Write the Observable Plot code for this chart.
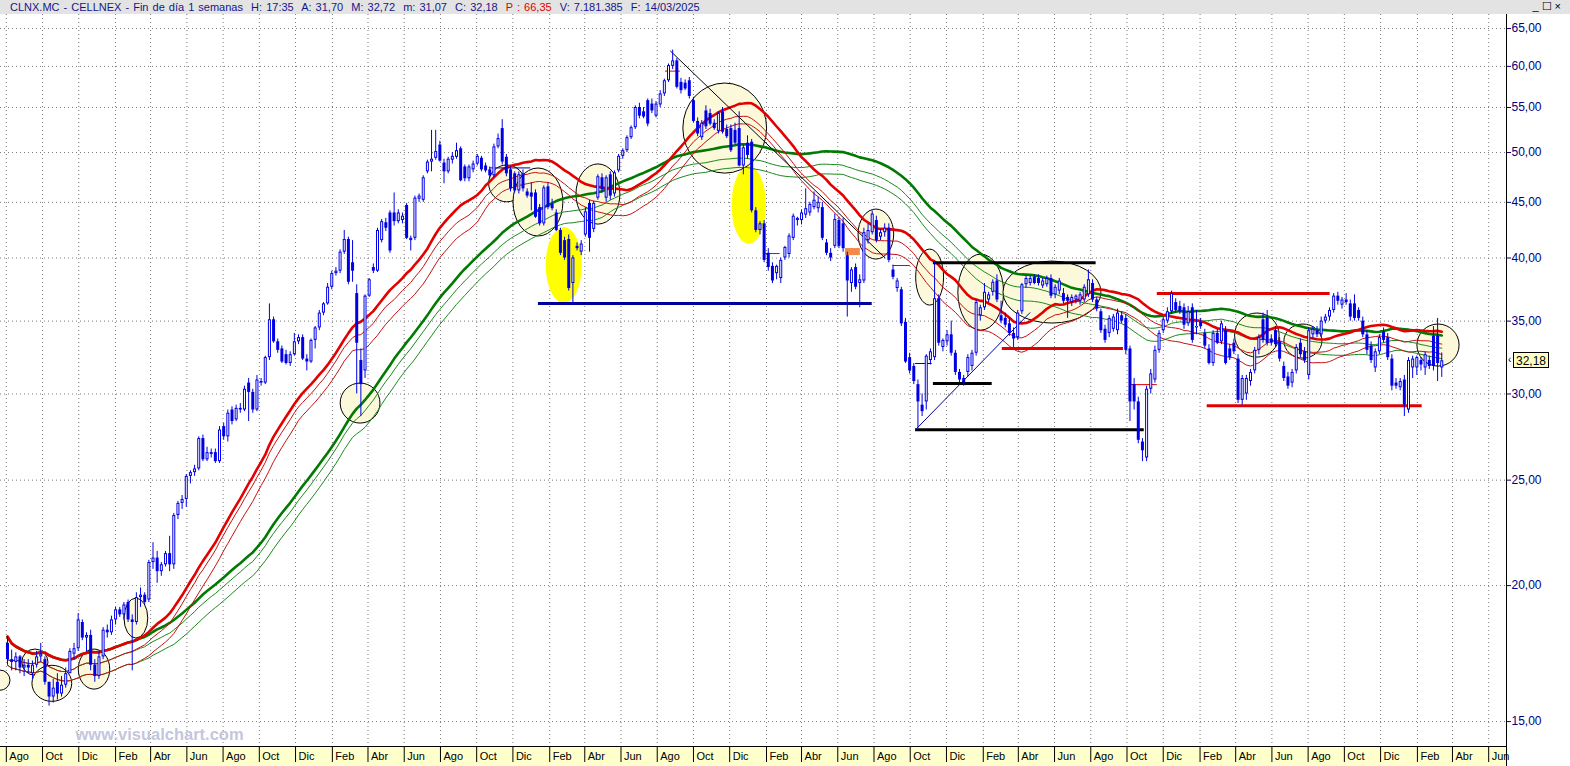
<!DOCTYPE html>
<html>
<head>
<meta charset="utf-8">
<script src="https://cdn.jsdelivr.net/npm/d3@7"></script>
<script src="https://cdn.jsdelivr.net/npm/@observablehq/plot@0.6"></script>
<style>
html,body{margin:0;padding:0;background:#fff;}
body{width:1570px;height:766px;overflow:hidden;font-family:"Liberation Sans",Arial,sans-serif;}
#head{height:14px;background:#e3e3e3;position:relative;font-size:11px;line-height:14px;color:#16168a;white-space:nowrap;}
#head .t{position:absolute;left:10px;top:0;word-spacing:1px;}
#head .p{color:#e00000;}
#head .b{position:absolute;right:6px;top:-1px;color:#000;font-size:11px;letter-spacing:3px;}
#chart svg{display:block;}
</style>
</head>
<body>
<div id="head"><span class="t">CLNX.MC - CELLNEX - Fin de día 1 semanas&nbsp; H: 17:35&nbsp; A: 31,70&nbsp; M: 32,72&nbsp; m: 31,07&nbsp; C: 32,18&nbsp; <span class="p">P : 66,35</span>&nbsp; V: 7.181.385&nbsp; F: 14/03/2025</span><span class="b">_☐×</span></div>
<div id="chart"></div>
<script>
// ---------- data (weekly candles: [open, high, low, close]) ----------
const firstWeek = "2018-08-03";
const w2018 = [[17.7,17.95,16.9,17.1],[17.1,17.45,16.7,17.0],[17.0,17.35,16.7,17.2],[17.2,17.25,16.6,16.8],[16.8,17.1,16.5,16.9],[16.9,17.1,16.6,16.8],[16.6,17.05,16.4,16.9],[16.9,17.4,16.8,17.2],[17.2,17.7,17.0,17.3],[17.1,17.2,16.2,16.3],
[16.3,16.3,15.5,15.8],[15.8,16.4,15.6,16.1],[16.3,16.6,15.7,15.9],[15.9,16.5,15.8,16.2],[16.2,16.8,16.1,16.6],[16.6,17.5,16.6,17.4],[17.3,17.7,17.1,17.5],[17.5,18.85,17.4,18.6],[18.5,18.6,17.8,17.9],[17.9,18.1,17.4,18.0],
[18.0,18.2,16.7,16.9],[16.9,17.1,16.3,16.5]];
const w2019 = [[16.5,17.4,16.4,17.2],[17.2,18.3,17.1,18.2],[18.2,18.4,17.9,18.1],[18.1,18.75,18.0,18.6],[18.6,19.1,18.4,19.0],[19.0,19.1,18.7,18.8],[18.8,19.3,18.6,19.2],[19.3,19.4,18.5,18.6],[18.6,18.8,16.7,18.5],[18.5,19.7,18.4,19.5],
[19.5,19.9,19.1,19.6],[19.6,19.7,19.2,19.3],[19.4,21.1,19.3,21.0],[21.0,21.9,20.7,21.2],[21.2,21.5,20.1,20.6],[20.6,21.0,20.4,20.9],[20.9,21.5,20.8,21.4],[21.4,22.2,20.6,20.9],[20.9,23.3,20.7,23.2],[23.2,23.9,23.0,23.8],
[23.8,24.2,23.5,24.0],[24.0,25.3,23.6,25.2],[25.2,25.5,24.8,25.4],[25.4,25.8,25.2,25.6],[25.6,27.4,25.5,27.3],[27.3,27.5,26.0,26.1],[26.1,26.8,26.0,26.5],[26.5,26.7,26.2,26.4],[26.5,26.7,25.9,26.0],[26.0,28.0,25.9,27.8],
[28.0,28.2,27.2,27.4],[27.4,29.0,27.1,28.8],[29.0,29.2,28.1,28.3],[28.4,29.3,28.3,29.1],[29.1,29.4,28.8,29.0],[29.0,30.5,28.9,30.3],[30.7,31.0,28.3,30.1],[30.1,30.3,28.8,29.0],[29.0,31.2,28.9,30.9],[30.8,31.0,30.5,30.7],
[30.7,32.5,30.6,32.4],[32.4,36.3,32.2,35.1],[35.1,35.3,33.4,33.5],[33.5,33.7,32.7,32.9],[33.0,33.2,32.0,32.1],[32.6,32.9,31.9,32.0],[32.0,32.8,31.8,32.6],[32.6,34.1,32.5,33.5],[33.5,34.0,33.3,33.8],[33.8,34.0,32.2,32.3],
[32.3,32.6,31.5,32.1],[32.1,33.7,32.0,33.6]];
const w2020 = [[33.6,34.6,33.0,34.5],[34.5,35.8,34.3,35.6],[35.6,36.4,35.4,36.3],[36.3,37.9,36.2,37.6],[37.6,38.9,37.4,38.7],[38.7,39.2,38.5,38.9],[38.9,40.7,38.7,40.5],[40.5,42.4,40.3,41.6],[41.6,41.8,37.8,38.0],[39.6,41.5,38.0,38.9],
[37.1,37.8,30.0,33.4],[32.2,33.0,28.6,30.6],[31.5,37.0,31.0,36.9],[36.9,38.3,36.8,38.2],[39.2,39.5,38.7,38.9],[38.9,42.6,38.8,42.4],[41.5,43.4,41.3,43.2],[43.1,43.5,42.3,42.6],[44.0,44.2,40.4,40.6],[44.0,45.9,42.8,43.2],
[43.2,44.3,43.0,44.0],[43.3,44.0,43.0,43.7],[44.7,44.9,41.6,41.7],[41.5,41.9,40.6,41.7],[41.7,45.6,41.5,45.4],[45.3,45.8,45.0,45.6],[45.2,47.6,45.0,47.4],[48.0,49.2,47.8,49.0],[49.0,52.4,48.0,49.3],[49.4,52.4,49.2,50.1],
[50.8,51.2,49.0,49.1],[48.9,49.3,46.8,48.0],[48.0,49.5,47.8,49.3],[49.2,50.0,48.8,49.6],[49.5,51.0,49.3,50.2],[50.4,50.6,47.0,47.1],[48.5,48.7,47.0,47.3],[47.3,48.7,47.0,48.5],[48.2,49.1,47.9,48.8],[48.8,49.8,48.6,49.6],
[49.4,49.6,48.0,48.2],[48.6,48.9,47.9,48.1],[48.2,48.5,47.4,47.6],[47.6,50.9,47.4,50.6],[50.6,52.0,50.4,51.5],[52.6,53.6,48.7,49.0],[49.5,49.8,47.5,47.8],[48.2,48.5,46.0,46.3],[47.8,48.0,45.9,46.1],[46.1,48.0,45.8,47.7],
[47.8,48.2,46.0,46.3],[46.0,46.3,45.4,45.6]];
const w2021 = [[45.9,46.9,44.2,45.5],[45.9,46.2,43.5,43.6],[44.5,44.8,42.8,43.0],[43.0,46.6,42.8,46.4],[46.5,46.9,44.3,44.5],[44.8,45.3,44.2,44.4],[44.0,44.3,42.3,42.4],[42.4,42.6,40.2,40.4],[41.5,41.8,39.8,40.0],[41.6,42.0,37.3,37.5],
[37.9,40.2,36.2,40.0],[41.0,41.3,40.6,40.8],[40.5,41.5,40.2,41.2],[42.0,44.5,41.8,44.1],[44.9,45.2,40.5,41.7],[42.5,45.1,42.2,44.9],[45.4,47.7,45.2,47.5],[47.4,47.8,45.9,46.2],[45.4,47.6,45.0,47.4],[47.7,48.0,45.2,45.6],
[45.8,48.1,45.5,47.9],[48.1,49.8,47.9,49.6],[49.6,50.4,49.3,50.2],[50.2,51.8,50.0,51.6],[51.6,52.9,51.4,52.7],[52.7,55.2,52.5,55.0],[55.0,55.5,53.7,54.0],[54.5,55.0,53.7,53.9],[55.8,56.0,52.8,53.1],[55.4,56.0,54.3,54.6],
[54.0,55.7,53.8,55.4],[55.3,57.0,55.0,56.6],[56.6,58.4,56.3,58.2],[58.2,60.3,58.0,60.1],[60.0,62.1,59.6,60.7],[60.7,61.0,57.2,57.4],[58.0,58.5,56.6,57.0],[57.9,58.3,57.0,57.2],[58.2,58.6,56.0,56.3],[55.8,56.2,53.2,53.4],
[53.4,53.8,51.7,52.0],[51.6,53.5,51.3,53.2],[54.6,55.2,52.5,52.8],[54.3,54.8,52.9,53.1],[53.2,53.6,52.4,52.6],[52.3,54.5,52.0,54.3],[54.5,55.0,52.0,52.2],[52.5,53.0,51.5,51.7],[52.6,53.0,50.0,50.2],[52.4,53.2,50.8,51.0],
[52.6,54.5,48.5,48.6],[48.6,50.8,47.7,50.5],[51.0,51.8,49.3,49.7]];
const w2022 = [[51.1,51.4,44.0,44.2],[44.2,44.5,42.2,42.4],[42.4,43.2,42.0,43.0],[43.0,43.3,39.6,39.8],[40.4,40.8,38.9,39.2],[39.3,39.6,37.9,38.1],[38.7,39.4,38.2,39.3],[38.3,40.0,37.9,39.8],[40.0,41.0,39.8,40.9],[40.3,42.1,40.0,41.9],
[41.7,43.9,41.5,43.7],[43.3,43.6,42.8,43.5],[43.3,44.3,42.9,44.0],[43.8,46.3,43.5,44.4],[44.0,45.0,43.7,44.8],[44.5,46.0,44.3,45.2],[44.4,45.5,44.0,45.0],[44.5,45.0,41.5,41.7],[41.3,41.6,40.2,40.4],[40.4,40.8,39.7,40.0],
[41.0,43.9,40.8,43.4],[43.3,43.6,40.8,41.0],[43.0,43.5,40.5,40.8],[40.2,40.5,35.3,38.1],[37.9,39.2,37.2,39.0],[39.2,39.5,37.4,37.6],[37.9,38.6,36.0,38.2],[38.1,42.6,37.9,42.2],[41.5,43.0,41.2,42.4],[42.2,44.2,42.0,43.9],
[43.3,43.7,41.3,41.5],[41.8,42.5,41.5,42.2],[42.2,43.0,41.8,42.6],[42.6,43.0,39.6,39.8],[39.0,39.4,38.2,38.4],[37.5,38.3,37.2,38.1],[37.4,37.6,34.6,34.8],[34.9,35.2,32.0,32.1],[32.4,32.7,31.3,31.5],[31.8,32.0,30.6,30.8],
[30.6,30.9,27.9,29.5],[29.3,30.0,28.6,28.9],[29.5,32.6,29.0,32.5],[32.2,33.0,31.9,32.8],[32.4,39.7,32.2,36.7],[36.7,37.0,33.2,33.4],[33.1,33.7,32.8,33.6],[33.5,34.3,33.2,34.0],[34.0,35.0,32.5,32.7],[32.7,32.9,31.2,31.4],
[31.4,31.6,30.7,30.9],[31.0,31.2,30.5,30.7]];
const w2023 = [[31.4,32.6,31.1,32.4],[31.8,32.9,31.5,32.7],[32.7,36.6,32.5,36.4],[35.4,36.2,35.0,36.0],[36.0,37.9,35.8,37.2],[36.6,37.2,36.4,37.0],[37.2,38.2,36.9,38.0],[38.1,38.6,36.4,36.6],[35.4,36.5,34.8,35.0],[35.2,35.6,34.5,34.7],
[34.8,35.2,33.9,34.1],[34.1,34.5,33.1,33.7],[33.8,35.8,33.6,35.6],[35.7,37.9,35.5,37.8],[37.8,38.5,37.5,38.3],[37.9,38.5,37.7,38.3],[38.4,38.6,37.8,37.9],[38.3,38.6,37.7,37.9],[37.7,38.3,37.5,38.1],[37.8,38.5,37.6,38.3],
[38.3,38.6,36.7,36.9],[37.0,37.8,36.7,37.6],[37.3,38.3,37.0,38.1],[37.1,37.5,36.3,36.5],[36.8,37.0,35.2,36.5],[36.4,37.0,36.1,36.8],[36.6,37.0,36.3,36.9],[36.5,37.2,36.2,37.0],[36.6,37.8,36.4,37.6],[37.0,39.0,36.8,38.2],
[37.9,38.2,36.4,36.6],[36.6,36.8,35.7,35.9],[35.7,35.9,34.1,34.3],[34.4,34.7,33.4,33.6],[34.1,35.4,33.8,35.2],[34.4,35.5,34.2,35.3],[34.3,35.9,34.0,35.6],[35.4,35.7,34.8,35.0],[35.2,35.5,32.6,32.9],[33.0,33.2,28.3,29.5],
[30.6,31.0,29.0,29.5],[29.5,29.8,27.0,27.2],[27.1,27.3,26.0,26.6],[26.2,30.5,26.0,30.3],[30.3,31.6,30.0,31.3],[30.9,33.2,30.7,32.9],[32.9,34.3,32.7,34.1],[34.3,35.3,34.1,35.1],[35.0,36.0,34.8,35.7],[35.7,37.3,35.5,37.1],
[36.4,36.7,35.6,35.8],[36.1,36.5,35.5,35.7]];
const w2024 = [[36.0,36.3,34.4,34.7],[34.8,36.1,34.6,35.7],[36.0,36.3,33.4,33.6],[34.5,35.8,34.0,34.6],[34.9,35.2,34.4,34.6],[34.1,34.4,33.0,33.2],[33.0,33.3,31.9,32.0],[32.0,34.3,31.8,34.1],[34.1,34.4,33.3,33.4],[33.5,35.0,33.3,34.8],
[34.3,34.6,31.9,32.0],[33.0,33.3,32.2,32.4],[33.4,33.7,32.6,32.8],[32.3,32.6,29.4,29.6],[29.6,31.2,29.3,31.0],[30.0,31.2,29.6,31.0],[30.8,31.6,30.5,31.4],[31.5,33.1,31.3,32.9],[32.9,34.0,32.6,33.8],[35.1,35.6,33.4,33.6],
[35.2,35.8,33.2,33.4],[33.7,34.0,33.2,33.4],[34.3,34.6,33.1,33.3],[33.5,33.8,32.1,32.3],[31.8,32.1,30.8,31.0],[31.1,31.4,30.3,30.5],[30.7,31.6,30.4,31.4],[31.5,33.3,31.3,33.1],[33.4,33.7,32.4,32.6],[32.8,33.1,32.0,32.2],
[31.2,34.5,30.9,34.3],[34.0,34.6,33.7,34.4],[34.3,34.6,33.8,34.0],[34.0,35.3,33.8,35.0],[35.0,35.5,34.8,35.3],[35.3,36.0,35.0,35.8],[35.8,37.1,35.6,36.9],[36.9,37.2,36.2,36.5],[36.2,36.8,35.9,36.6],[36.6,37.1,36.2,36.4],
[36.3,36.6,35.0,35.3],[36.3,37.0,35.0,35.2],[35.8,36.0,35.0,35.2],[35.0,35.3,33.8,34.0],[34.0,34.3,32.6,32.9],[33.2,33.5,32.0,32.2],[31.7,33.0,31.4,32.8],[32.8,34.0,32.6,33.8],[34.2,34.5,33.4,33.6],[33.8,34.1,32.2,32.4],
[32.3,32.6,30.2,30.5],[30.7,31.0,30.3,30.5]];
const w2025 = [[30.4,31.0,30.2,30.8],[30.9,31.2,28.6,29.3],[29.0,32.4,28.8,32.2],[31.7,32.5,31.0,32.3],[31.7,32.5,31.2,32.4],[32.2,32.4,31.5,31.9],[31.7,32.8,31.2,32.6],[32.2,32.5,31.6,31.8],[33.9,34.6,31.5,31.8],[33.9,35.2,30.8,32.0],[31.70,32.72,31.07,32.18]];

const priceTicks = [15, 20, 25, 30, 35, 40, 45, 50, 55, 60, 65];
const monthNames = ["Ene","Feb","Mar","Abr","May","Jun","Jul","Ago","Sep","Oct","Nov","Dic"];
const lastClose = 32.18;

// moving averages: [period, price column, group]  (high = thick line, close / low = thin lines)
const averages = [
  [60, "low", "greenThin"], [60, "close", "greenThin"], [60, "high", "green"],
  [30, "low", "redThin"], [30, "close", "redThin"], [30, "high", "red"]
];

// annotation ellipses: [from, to, upper price, lower price]
const rings = [
  ["2018-07-05","2018-08-08",16.71,16.01],
  ["2018-08-28","2018-10-11",17.47,16.53],
  ["2018-09-14","2018-11-20",16.88,15.64],
  ["2018-12-01","2019-01-23",17.47,16.05],
  ["2019-02-16","2019-03-28",19.46,17.88],
  ["2020-02-15","2020-04-22",30.67,28.18],
  ["2020-10-22","2020-12-22",48.65,45.0],
  ["2020-12-02","2021-02-24",48.34,41.86],
  ["2021-03-18","2021-05-31",48.76,42.93],
  ["2021-09-14","2022-02-02",57.86,47.82],
  ["2022-07-06","2022-09-04",44.32,39.87],
  ["2022-10-11","2022-11-27",40.72,36.17],
  ["2022-12-21","2023-03-08",40.29,34.30],
  ["2023-03-07","2023-08-19",39.70,34.82],
  ["2024-03-31","2024-06-14",35.57,32.40],
  ["2024-06-22","2024-08-25",34.75,32.33],
  ["2025-02-01","2025-04-13",34.75,31.79]
];
const highlights = [
  ["2021-01-26","2021-03-28",42.66,36.33],
  ["2021-12-05","2022-02-01",48.54,41.16]
];
// horizontal levels: [from, to, price, group]
const levels = [
  ["2021-01-13","2022-07-29",36.33,"navy"],
  ["2022-11-09","2023-08-10",39.6,"black"],
  ["2022-11-09","2023-02-16",30.67,"black"],
  ["2022-10-10","2023-10-30",27.82,"black"],
  ["2023-03-05","2023-09-25",33.03,"red"],
  ["2023-11-21","2024-09-07",37.1,"red"],
  ["2024-02-13","2025-02-09",29.27,"red"]
];
const notches = [
  ["2021-08-15","2021-09-09",59.4,"red"],
  ["2022-01-27","2022-02-24",40.38,"red"],
  ["2022-09-02","2022-10-01",39.37,"red"],
  ["2023-10-07","2023-11-21",30.6,"red"],
  ["2020-10-23","2020-12-31",48.4,"navy"],
  ["2022-10-10","2022-11-07",32.0,"navy"]
];
// trend lines: [from, price, to, price, group]
const trends = [
  ["2021-08-23",62.0,"2022-08-20",40.0,"black"],
  ["2022-10-10",27.82,"2023-04-21",35.65,"navy"]
];
const boxes = [["2022-06-14","2022-07-09",40.81,40.21]];

// ---------- build ----------
const start = new Date(firstWeek + "T00:00:00Z");
const candles = [w2018, w2019, w2020, w2021, w2022, w2023, w2024, w2025].flat().map(([open, high, low, close], i) => ({
  date: d3.utcDay.offset(start, 7 * i), open, close,
  high: Math.max(high, open, close), low: Math.min(low, open, close),
  top: Math.max(open, close), bottom: Math.min(open, close), up: close > open
}));
const upCandles = candles.filter(d => d.up);
const monthTicks = d3.utcMonth.range(new Date("2018-08-01T00:00:00Z"), new Date("2025-06-02T00:00:00Z"), 2);

const BLUE = "#0000e6";
const styles = {
  red: {stroke: "#e20000", strokeWidth: 2.6},
  redThin: {stroke: "#c81010", strokeWidth: 1},
  green: {stroke: "#007a00", strokeWidth: 2.6},
  greenThin: {stroke: "#1a8a1a", strokeWidth: 1}
};
const lineColor = {red: "#e00000", black: "#000000", navy: "#00009a"};

function ellipseMark(list, fill, stroke) {
  return (index, scales) => {
    const g = d3.create("svg:g");
    for (const [a, b, hi, lo] of list) {
      const x1 = scales.x(new Date(a)), x2 = scales.x(new Date(b));
      const y1 = scales.y(hi), y2 = scales.y(lo);
      g.append("ellipse")
        .attr("cx", (x1 + x2) / 2).attr("cy", (y1 + y2) / 2)
        .attr("rx", Math.abs(x2 - x1) / 2).attr("ry", Math.abs(y2 - y1) / 2)
        .attr("fill", fill).attr("stroke", stroke).attr("stroke-width", 1);
    }
    return g.node();
  };
}

const frameMark = (index, scales, values, dims) => {
  const {width, height, marginRight, marginBottom} = dims;
  const g = d3.create("svg:g");
  const x0 = width - marginRight;
  g.append("rect").attr("x", 0).attr("y", height - marginBottom).attr("width", x0).attr("height", marginBottom).attr("fill", "#ffffcc");
  g.append("line").attr("x1", 0).attr("x2", x0).attr("y1", height - marginBottom + 0.5).attr("y2", height - marginBottom + 0.5).attr("stroke", "#000");
  g.append("line").attr("x1", x0 + 0.5).attr("x2", x0 + 0.5).attr("y1", 0).attr("y2", height).attr("stroke", "#000");
  return g.node();
};

const lastMark = (index, scales, values, dims) => {
  const y = Math.round(scales.y(lastClose));
  const x0 = dims.width - dims.marginRight;
  const g = d3.create("svg:g").attr("font-family", "Liberation Sans, Arial, sans-serif").attr("text-anchor", "start");
  g.append("text").attr("x", x0 + 2).attr("y", y + 3).attr("font-size", 10).attr("fill", "#000").text("‹");
  g.append("rect").attr("x", x0 + 7.5).attr("y", y - 7.5).attr("width", 35).attr("height", 15).attr("fill", "#ffffc4").attr("stroke", "#000");
  g.append("text").attr("x", x0 + 10).attr("y", y + 4.5).attr("font-size", 12).attr("fill", "#000").text(lastClose.toFixed(2).replace(".", ","));
  return g.node();
};

const levelRows = levels.map(([a, b, p, c]) => ({x1: new Date(a), x2: new Date(b), y: p, c}));
const notchRows = notches.map(([a, b, p, c]) => ({x1: new Date(a), x2: new Date(b), y: p, c}));
const trendRows = trends.map(([a, p, b, q, c]) => ({x1: new Date(a), y1: p, x2: new Date(b), y2: q, c}));
const boxRows = boxes.map(([a, b, hi, lo]) => ({x1: new Date(a), x2: new Date(b), y1: hi, y2: lo}));

const chart = Plot.plot({
  width: 1570, height: 752,
  marginTop: 0, marginRight: 64, marginBottom: 20, marginLeft: 0,
  style: {background: "#ffffff", fontFamily: "Liberation Sans, Arial, sans-serif", overflow: "visible"},
  x: {type: "utc", domain: [new Date("2018-07-22T05:00:00Z"), new Date("2025-07-01T00:00:00Z")]},
  y: {type: "log", domain: [14.23, 66.96]},
  marks: [
    frameMark,
    Plot.gridX(monthTicks, {stroke: "#7a7a7a", strokeOpacity: 1, strokeDasharray: "1,3"}),
    Plot.gridY(priceTicks, {stroke: "#7a7a7a", strokeOpacity: 1, strokeDasharray: "1,3"}),
    ellipseMark(highlights, "#ffff00", "none"),
    ellipseMark(rings, "#fbf9da", "#000000"),
    Plot.text(["www.visualchart.com"], {frameAnchor: "bottom-left", textAnchor: "start", lineAnchor: "bottom", dx: 75, dy: -7, fontSize: 16.5, fontWeight: "bold", fill: "#c4c6de"}),
    ...averages.map(([k, col, grp]) => Plot.lineY(candles, Plot.windowY({k, anchor: "end", strict: false, reduce: "mean"}, {x: "date", y: col, ...styles[grp]}))),
    Plot.rect(boxRows, {x1: "x1", x2: "x2", y1: "y1", y2: "y2", fill: "#f5894a"}),
    Plot.ruleY(levelRows, {x1: "x1", x2: "x2", y: "y", stroke: d => lineColor[d.c], strokeWidth: 3}),
    Plot.ruleY(notchRows, {x1: "x1", x2: "x2", y: "y", stroke: d => lineColor[d.c], strokeWidth: 1}),
    Plot.link(trendRows, {x1: "x1", y1: "y1", x2: "x2", y2: "y2", stroke: d => lineColor[d.c], strokeWidth: 1}),
    Plot.ruleX(candles, {x: "date", y1: "low", y2: "high", stroke: BLUE, strokeWidth: 1}),
    Plot.ruleX(candles, {x: "date", y1: "top", y2: "bottom", stroke: BLUE, strokeWidth: 3}),
    Plot.ruleX(upCandles, {x: "date", y1: "top", y2: "bottom", stroke: "#ffffff", strokeWidth: 1, insetTop: 1, insetBottom: 1}),
    Plot.axisY(priceTicks, {anchor: "right", tickSize: 4, tickPadding: 1, fontSize: 12, color: "#000080", label: null, tickFormat: d => d.toFixed(2).replace(".", ",")}),
    Plot.axisX(monthTicks, {anchor: "bottom", tickSize: 16, fill: "none", stroke: "#000", label: null}),
    Plot.axisX(monthTicks, {anchor: "bottom", tickSize: 0, tickPadding: 0, textAnchor: "start", dx: 3, dy: 6, fontSize: 11, fill: "#000", label: null, tickFormat: d => monthNames[d.getUTCMonth()]}),
    lastMark
  ]
});
document.getElementById("chart").appendChild(chart);
</script>
</body>
</html>
